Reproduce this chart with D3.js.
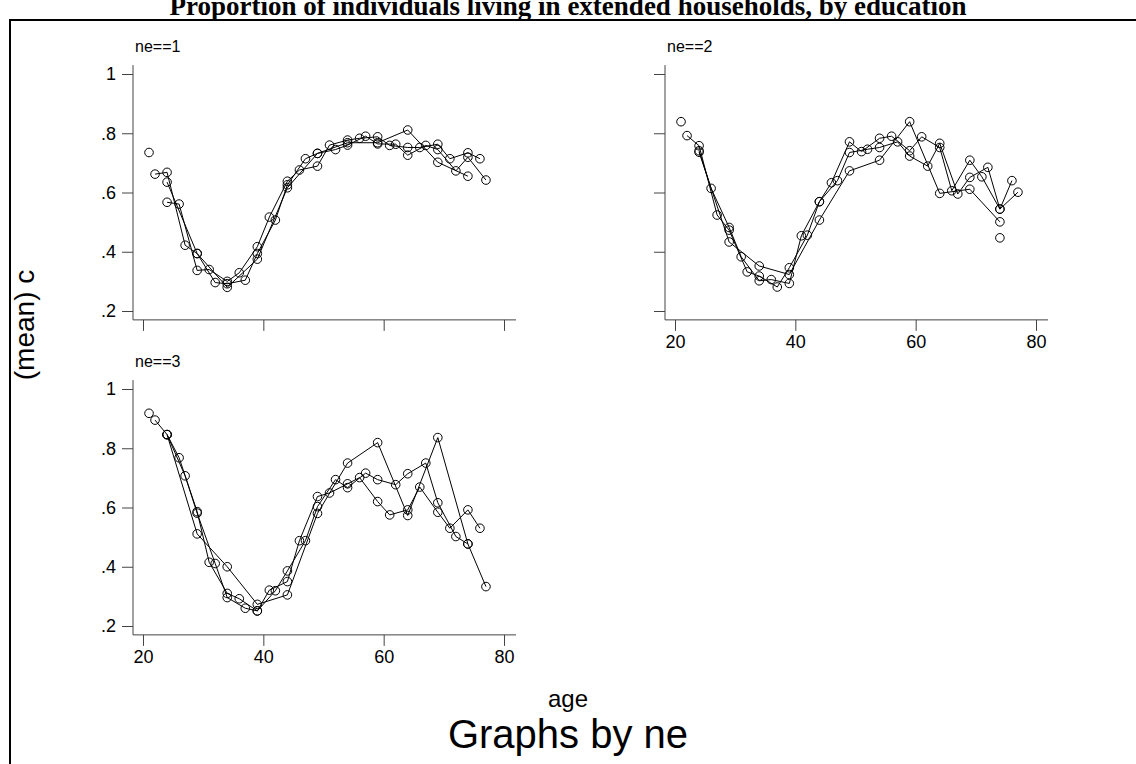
<!DOCTYPE html>
<html>
<head>
<meta charset="utf-8">
<script src="https://cdn.jsdelivr.net/npm/d3@7"></script>
<style>
  html, body { margin: 0; padding: 0; background: #fff; }
  svg { display: block; }
</style>
</head>
<body>
<svg id="chart" width="1136" height="764"></svg>
<script>
// ---------- DATA ----------
const title = "Proportion of individuals living in extended households, by education";
const panelLabels = ["ne==1", "ne==2", "ne==3"];
const xTicks = [20, 40, 60, 80];
const yTicks = [0.2, 0.4, 0.6, 0.8, 1];

// Panel ne==1
const p1_s1_age = [24,29,34,39,44,49,54,59,64,69,74];
const p1_s1     = [.635,.394,.28,.375,.616,.732,.768,.768,.811,.702,.655];
const p1_s2_age = [24,26,29,31,34,36,39,41,44,46,49,51,54,56,59,61,64,66,69,71,74,76];
const p1_s2     = [.567,.561,.337,.340,.30,.329,.417,.517,.638,.676,.689,.76,.777,.783,.788,.759,.752,.752,.763,.714,.734,.714];
const p1_s3_age = [22,24,27,29,32,34,37,39,42,44,47,49,52,54,57,59,62,64,67,69,72,74,77];
const p1_s3     = [.662,.668,.422,.394,.296,.292,.304,.394,.507,.626,.714,.732,.745,.76,.79,.764,.763,.726,.759,.745,.673,.719,.642];
const p1_pt_age = [21];
const p1_pt     = [.735];

// Panel ne==2
const p2_s1_age = [24,29,34,39,44,49,54,59,64,69,74];
const p2_s1     = [.736,.433,.352,.323,.507,.673,.709,.839,.597,.611,.501];
const p2_s2_age = [24,26,29,31,34,36,39,41,44,46,49,51,54,56,59,61,64,66,69,71,74,76];
const p2_s2     = [.741,.614,.482,.383,.302,.306,.293,.454,.569,.633,.771,.738,.783,.79,.741,.788,.752,.606,.709,.653,.544,.64];
const p2_s3_age = [22,24,27,29,32,34,37,39,42,44,47,49,52,54,57,59,62,64,67,69,72,74,77];
const p2_s3     = [.792,.758,.524,.473,.332,.318,.281,.346,.456,.569,.64,.735,.746,.752,.771,.723,.689,.766,.595,.651,.685,.544,.601];
const p2_pt_age = [21, 74];
const p2_pt     = [.839, .447];

// Panel ne==3
const p3_s1_age = [24,29,34,39,44,49,54,59,64,69,74];
const p3_s1     = [.846,.511,.4,.273,.305,.58,.75,.819,.573,.836,.477];
const p3_s2_age = [24,26,29,31,34,36,39,41,44,46,49,51,54,56,59,61,64,66,69,71,74,76];
const p3_s2     = [.846,.768,.586,.415,.31,.292,.251,.321,.35,.488,.637,.649,.68,.701,.62,.575,.592,.669,.584,.53,.592,.53];
const p3_s3_age = [22,24,27,29,32,34,37,39,42,44,47,49,52,54,57,59,62,64,67,69,72,74,77];
const p3_s3     = [.895,.846,.707,.581,.411,.296,.26,.251,.319,.386,.488,.603,.694,.667,.716,.694,.677,.714,.75,.616,.502,.477,.333];
const p3_pt_age = [21];
const p3_pt     = [.918];

// ---------- DRAW ----------
const svg = d3.select("#chart");
const FONT = "'Liberation Sans', Arial, sans-serif";

// frame
svg.append("rect").attr("x", 10).attr("y", 20).attr("width", 1140).attr("height", 760)
  .attr("fill", "none").attr("stroke", "#000").attr("stroke-width", 2);

// title
svg.append("text").attr("x", 568).attr("y", 15).attr("text-anchor", "middle")
  .attr("font-family", "'Liberation Serif', 'Times New Roman', serif")
  .attr("font-weight", "bold").attr("font-size", 27).text(title);

const panels = [
  { label: panelLabels[0], left: 133, top: 65, showX: false, showY: true,
    series: [[p1_s1_age,p1_s1],[p1_s2_age,p1_s2],[p1_s3_age,p1_s3]], pts: [p1_pt_age,p1_pt] },
  { label: panelLabels[1], left: 665, top: 65, showX: true, showY: false,
    series: [[p2_s1_age,p2_s1],[p2_s2_age,p2_s2],[p2_s3_age,p2_s3]], pts: [p2_pt_age,p2_pt] },
  { label: panelLabels[2], left: 133, top: 380, showX: true, showY: true,
    series: [[p3_s1_age,p3_s1],[p3_s2_age,p3_s2],[p3_s3_age,p3_s3]], pts: [p3_pt_age,p3_pt] }
];

const fmtY = v => v === 1 ? "1" : d3.format(".1f")(v).replace(/^0/, "");

panels.forEach(p => {
  const g = svg.append("g");
  const x = d3.scaleLinear().domain([20, 80]).range([p.left + 10, p.left + 371]);
  const y = d3.scaleLinear().domain([0.2, 1]).range([p.top + 246, p.top + 9]);
  const x0 = x(18.34), x1 = x(82), yb = y(0.17), yt = y(1.03);

  // axis lines
  g.append("line").attr("x1", x0).attr("x2", x0).attr("y1", yt).attr("y2", yb)
    .attr("stroke", "#444").attr("stroke-width", 1);
  g.append("line").attr("x1", x0).attr("x2", x1).attr("y1", yb).attr("y2", yb)
    .attr("stroke", "#444").attr("stroke-width", 1);

  // y axis
  const ya = d3.axisLeft(y).tickValues(yTicks).tickSize(11).tickPadding(6)
    .tickFormat(p.showY ? fmtY : () => "");
  const yg = g.append("g").attr("transform", `translate(${x0},0)`).call(ya);
  yg.select(".domain").remove();
  yg.selectAll("line").attr("stroke", "#444");
  yg.selectAll("text").attr("font-family", FONT).attr("font-size", 18).attr("fill", "#000");

  // x axis
  const xa = d3.axisBottom(x).tickValues(xTicks).tickSize(11).tickPadding(4)
    .tickFormat(p.showX ? d3.format("d") : () => "");
  const xg = g.append("g").attr("transform", `translate(0,${yb})`).call(xa);
  xg.select(".domain").remove();
  xg.selectAll("line").attr("stroke", "#444");
  xg.selectAll("text").attr("font-family", FONT).attr("font-size", 18).attr("fill", "#000");

  // panel label
  g.append("text").attr("x", x0 + 2).attr("y", p.top - 13)
    .attr("font-family", FONT).attr("font-size", 16).text(p.label);

  // series
  const line = d3.line().defined(d => d[1] != null).x(d => x(d[0])).y(d => y(d[1]));
  p.series.forEach(([ages, vals]) => {
    const data = ages.map((a, i) => [a, vals[i]]);
    g.append("path").datum(data).attr("d", line)
      .attr("fill", "none").attr("stroke", "#000").attr("stroke-width", 1);
    g.selectAll(null).data(data.filter(d => d[1] != null)).enter().append("circle")
      .attr("cx", d => x(d[0])).attr("cy", d => y(d[1])).attr("r", 4.3)
      .attr("fill", "none").attr("stroke", "#000").attr("stroke-width", 1);
  });
  const [pa, pv] = p.pts;
  g.selectAll(null).data(pa.map((a, i) => [a, pv[i]])).enter().append("circle")
    .attr("cx", d => x(d[0])).attr("cy", d => y(d[1])).attr("r", 4.3)
    .attr("fill", "none").attr("stroke", "#000").attr("stroke-width", 1);
});

// axis titles
svg.append("text").attr("transform", "translate(34,325) rotate(-90)")
  .attr("text-anchor", "middle").attr("font-family", FONT).attr("font-size", 28).text("(mean) c");
svg.append("text").attr("x", 568).attr("y", 707).attr("text-anchor", "middle")
  .attr("font-family", FONT).attr("font-size", 24).text("age");
svg.append("text").attr("x", 568).attr("y", 748).attr("text-anchor", "middle")
  .attr("font-family", FONT).attr("font-size", 40).text("Graphs by ne");
</script>
</body>
</html>
